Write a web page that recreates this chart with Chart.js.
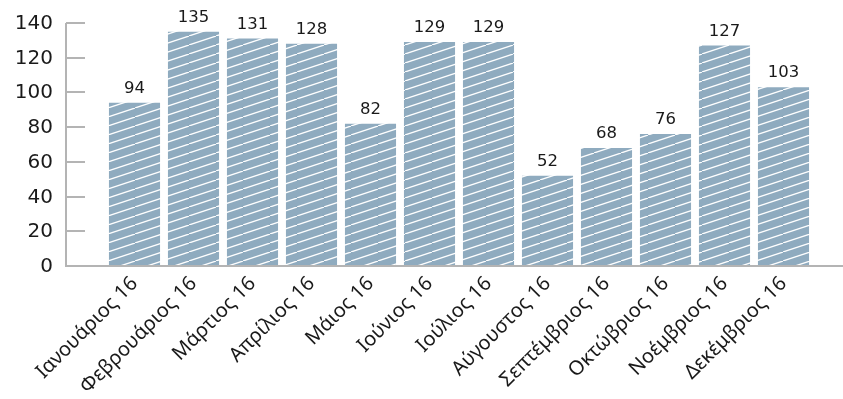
<!DOCTYPE html>
<html>
<head>
<meta charset="utf-8">
<script src="https://cdn.jsdelivr.net/npm/chart.js@4/dist/chart.umd.min.js"></script>
<style>
  html, body { margin: 0; padding: 0; background: #ffffff; }
  #wrap { width: 843px; height: 399px; }
</style>
</head>
<body>
<div id="wrap"><canvas id="c" width="843" height="399"></canvas></div>
<script>
// Monthly totals for 2016
const months = ['Ιανουάριος 16', 'Φεβρουάριος 16', 'Μάρτιος 16', 'Απρίλιος 16', 'Μάιος 16', 'Ιούνιος 16',
                'Ιούλιος 16', 'Αύγουστος 16', 'Σεπτέμβριος 16', 'Οκτώβριος 16', 'Νοέμβριος 16', 'Δεκέμβριος 16'];
const counts = [94, 135, 131, 128, 82, 129, 129, 52, 68, 76, 127, 103];
const yTicks = [0, 20, 40, 60, 80, 100, 120, 140];

const FONT = '"DejaVu Sans", sans-serif';
const LABEL_FONT = '"Noto Sans", sans-serif';
const AXIS_GREY = '#b4b4b4';
const AXIS_LEFT = 66;
const Y_LABEL_RIGHT = 53;

// Steel-blue fill with thin white diagonal hatching
function hatchPattern() {
  const w = 27, h = 9;
  const tile = document.createElement('canvas');
  tile.width = w; tile.height = h;
  const t = tile.getContext('2d');
  t.fillStyle = '#8fabbf';
  t.fillRect(0, 0, w, h);
  t.strokeStyle = '#ffffff';
  t.lineWidth = 1.25;
  t.beginPath();
  t.moveTo(-w, 2 * h);
  t.lineTo(2 * w, -h);
  t.stroke();
  return t.createPattern(tile, 'repeat');
}

const ctx = document.getElementById('c').getContext('2d');

// Axis lines, inward y tick marks and y tick labels set apart from the bars
const axisPlugin = {
  id: 'axisLines',
  afterDatasetsDraw(chart) {
    const c = chart.ctx;
    const y = chart.scales.y;
    const area = chart.chartArea;
    c.save();
    c.strokeStyle = AXIS_GREY;
    c.lineWidth = 2;
    c.beginPath();
    c.moveTo(AXIS_LEFT, y.getPixelForValue(140));
    c.lineTo(AXIS_LEFT, area.bottom);
    c.lineTo(chart.width, area.bottom);
    c.stroke();
    c.font = '20px ' + FONT;
    c.fillStyle = '#1a1a1a';
    c.textAlign = 'right';
    c.textBaseline = 'middle';
    y.ticks.forEach(t => {
      const py = Math.round(y.getPixelForValue(t.value));
      if (t.value !== 0) {
        c.beginPath();
        c.moveTo(AXIS_LEFT, py);
        c.lineTo(AXIS_LEFT + 19, py);
        c.stroke();
      }
      c.fillText(String(t.value), Y_LABEL_RIGHT, py + 1);
    });
    c.restore();
  }
};

// Value labels above each bar
const valueLabels = {
  id: 'valueLabels',
  afterDatasetsDraw(chart) {
    const c = chart.ctx;
    const meta = chart.getDatasetMeta(0);
    c.save();
    c.font = '16.5px ' + FONT;
    c.fillStyle = '#1a1a1a';
    c.textAlign = 'center';
    c.textBaseline = 'bottom';
    meta.data.forEach((bar, i) => {
      c.fillText(String(counts[i]), bar.x, bar.y - 6);
    });
    c.restore();
  }
};

new Chart(ctx, {
  type: 'bar',
  data: {
    labels: months,
    datasets: [{
      data: counts,
      backgroundColor: hatchPattern(),
      borderWidth: 0,
      barPercentage: 0.866,
      categoryPercentage: 1.0
    }]
  },
  options: {
    responsive: false,
    animation: false,
    devicePixelRatio: 1,
    layout: { padding: { top: 23, right: 30, bottom: 0, left: 0 } },
    plugins: {
      legend: { display: false },
      tooltip: { enabled: false }
    },
    scales: {
      x: {
        grid: { display: false, drawTicks: false },
        border: { display: false },
        ticks: {
          autoSkip: false,
          maxRotation: 45,
          minRotation: 45,
          padding: 6,
          color: '#1a1a1a',
          font: { family: LABEL_FONT, size: 20 }
        },
        afterFit(scale) { scale.height = 133; }
      },
      y: {
        min: 0,
        max: 140,
        grid: { display: false, drawTicks: false },
        border: { display: false },
        afterBuildTicks(scale) { scale.ticks = yTicks.map(v => ({ value: v })); },
        ticks: { display: false },
        afterFit(scale) { scale.width = 105; }
      }
    }
  },
  plugins: [axisPlugin, valueLabels]
});
</script>
</body>
</html>
